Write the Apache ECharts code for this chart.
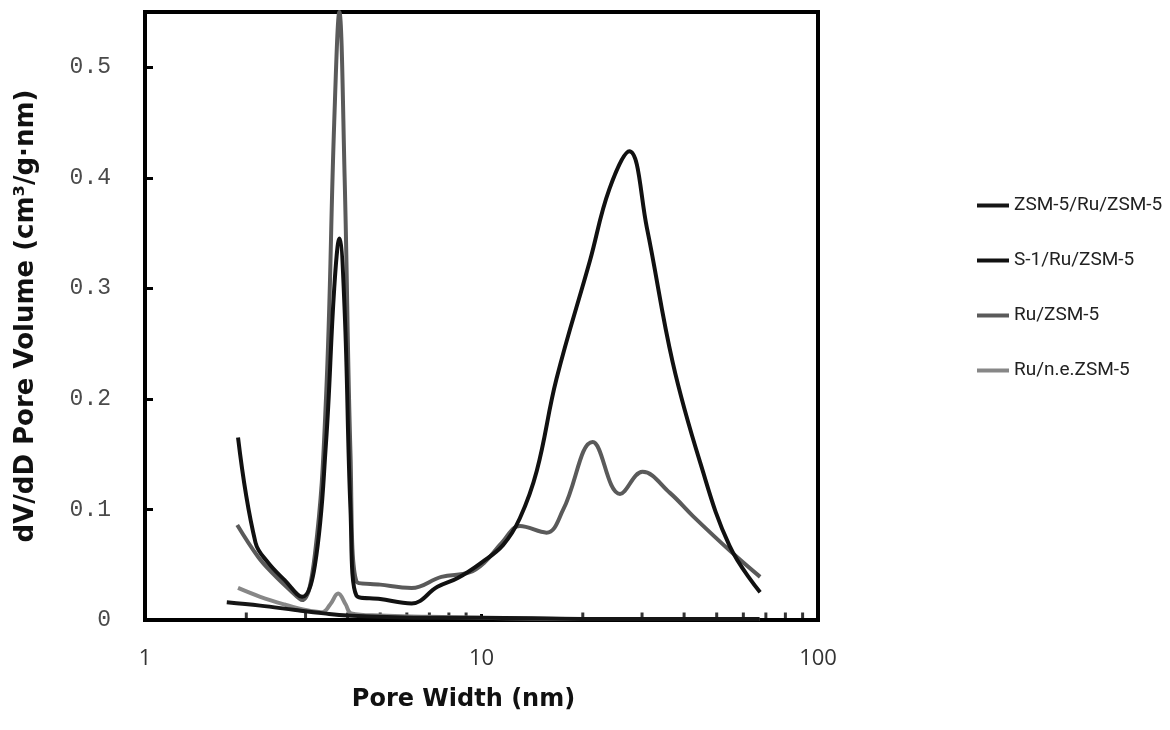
<!DOCTYPE html>
<html>
<head>
<meta charset="utf-8">
<script src="https://cdn.jsdelivr.net/npm/echarts@6/dist/echarts.min.js"></script>
<style>
  html, body { margin: 0; padding: 0; background: #fff; }
  #chart { width: 1170px; height: 730px; }
</style>
</head>
<body>
<div id="chart"></div>
<script>
// legend names, in legend order
const seriesNames = ['ZSM-5/Ru/ZSM-5', 'S-1/Ru/ZSM-5', 'Ru/ZSM-5', 'Ru/n.e.ZSM-5'];

// ZSM-5/Ru/ZSM-5 (low curve along the bottom)
const poreZZ = [1.75, 2.2, 2.8, 3.4, 4, 5, 7, 10, 20, 40, 67];
const volZZ = [0.016, 0.013, 0.009, 0.006, 0.004, 0.003, 0.002, 0.002, 0.001, 0.001, 0.001];

// S-1/Ru/ZSM-5 (black, big peak near 27 nm)
const poreS1 = [1.89, 2.13, 2.32, 2.6, 2.93, 3.2, 3.45, 3.65, 3.78, 3.92, 4.08, 4.25, 5, 6.2, 7.4, 8.5, 10, 11.6, 13, 14.6, 16.7, 21, 24, 27.5, 31, 37, 44.6, 54.6, 67.3];
const volS1 = [0.165, 0.07, 0.052, 0.036, 0.021, 0.05, 0.16, 0.3, 0.345, 0.28, 0.1, 0.022, 0.019, 0.015, 0.03, 0.038, 0.052, 0.068, 0.092, 0.135, 0.218, 0.325, 0.39, 0.424, 0.355, 0.233, 0.143, 0.067, 0.025];

// Ru/ZSM-5 (dark grey, tall peak at 3.8 nm)
const poreRu = [1.88, 2.17, 2.4, 2.7, 2.93, 3.2, 3.45, 3.65, 3.78, 3.92, 4.08, 4.25, 5, 6.2, 7.6, 9.2, 10.2, 11.5, 13, 15.6, 17.5, 21.4, 25.8, 30.1, 36.3, 42.5, 55.5, 67.3];
const volRu = [0.086, 0.057, 0.042, 0.027, 0.018, 0.06, 0.2, 0.45, 0.55, 0.4, 0.15, 0.035, 0.032, 0.029, 0.039, 0.043, 0.052, 0.07, 0.085, 0.079, 0.1, 0.161, 0.114, 0.134, 0.115, 0.094, 0.061, 0.039];

// Ru/n.e.ZSM-5 (light grey, small bump at 3.8 nm)
const poreNE = [1.89, 2.2, 2.6, 3.0, 3.36, 3.55, 3.75, 3.95, 4.1, 5, 7, 10, 20, 40, 67];
const volNE = [0.029, 0.021, 0.014, 0.009, 0.007, 0.014, 0.024, 0.014, 0.006, 0.004, 0.003, 0.002, 0.001, 0.001, 0.001];

// minor tick positions on the log axis
const minorTicks = [2, 3, 4, 5, 6, 7, 8, 9, 20, 30, 40, 50, 60, 70, 80, 90];

const zip = (xs, ys) => xs.map((x, i) => [x, ys[i]]);

const colors = ['#161616', '#111111', '#5a5a5a', '#878787'];
const pairs = [[poreZZ, volZZ], [poreS1, volS1], [poreRu, volRu], [poreNE, volNE]];

const lineSeries = seriesNames.map((name, i) => ({
  name: name,
  type: 'line',
  data: zip(pairs[i][0], pairs[i][1]),
  smooth: 0.4,
  showSymbol: false,
  color: colors[i],
  lineStyle: { width: 4, color: colors[i] },
  z: 10 - i
}));

const chart = echarts.init(document.getElementById('chart'));
chart.setOption({
  animation: false,
  grid: {
    left: 145, right: 352, top: 12, bottom: 110,
    show: true, borderColor: '#000', borderWidth: 4
  },
  legend: {
    orient: 'vertical',
    left: 972, top: 190,
    itemWidth: 32, itemHeight: 4, itemGap: 34,
    icon: 'rect',
    data: seriesNames,
    textStyle: { fontFamily: 'Roboto', fontSize: 19, color: '#222', lineHeight: 21 }
  },
  xAxis: {
    type: 'log', logBase: 10, min: 1, max: 100,
    name: 'Pore Width (nm)', nameLocation: 'middle', nameGap: 68,
    nameTextStyle: { fontFamily: 'DejaVu Sans', fontWeight: 'bold', fontSize: 24, color: '#111', padding: [0, 36, 0, 0] },
    axisLine: { lineStyle: { color: '#000', width: 4 } },
    axisTick: { inside: true, length: 6, lineStyle: { color: '#000', width: 3 } },
    axisLabel: { margin: 28, fontFamily: 'Open Sans', fontSize: 22, color: '#333' },
    splitLine: { show: false }
  },
  yAxis: {
    type: 'value', min: 0, max: 0.55, interval: 0.1,
    name: 'dV/dD Pore Volume (cm³/g·nm)', nameLocation: 'middle', nameGap: 106,
    nameTextStyle: { fontFamily: 'DejaVu Sans', fontWeight: 'bold', fontSize: 26, color: '#111' },
    axisLine: { lineStyle: { color: '#000', width: 4 } },
    axisTick: { inside: true, length: 8, lineStyle: { color: '#000', width: 3 } },
    axisLabel: {
      margin: 34, fontFamily: 'Liberation Mono', fontSize: 23, color: '#4a4a4a',
      formatter: v => (v > 0.501 ? '' : String(Math.round(v * 10) / 10))
    },
    splitLine: { show: false }
  },
  series: lineSeries.concat([{
    type: 'scatter',
    data: minorTicks.map(t => [t, 0]),
    symbol: 'rect',
    symbolSize: [3, 7],
    symbolOffset: [0, -4],
    itemStyle: { color: '#000' },
    silent: true,
    clip: false,
    z: 1
  }])
});
</script>
</body>
</html>
